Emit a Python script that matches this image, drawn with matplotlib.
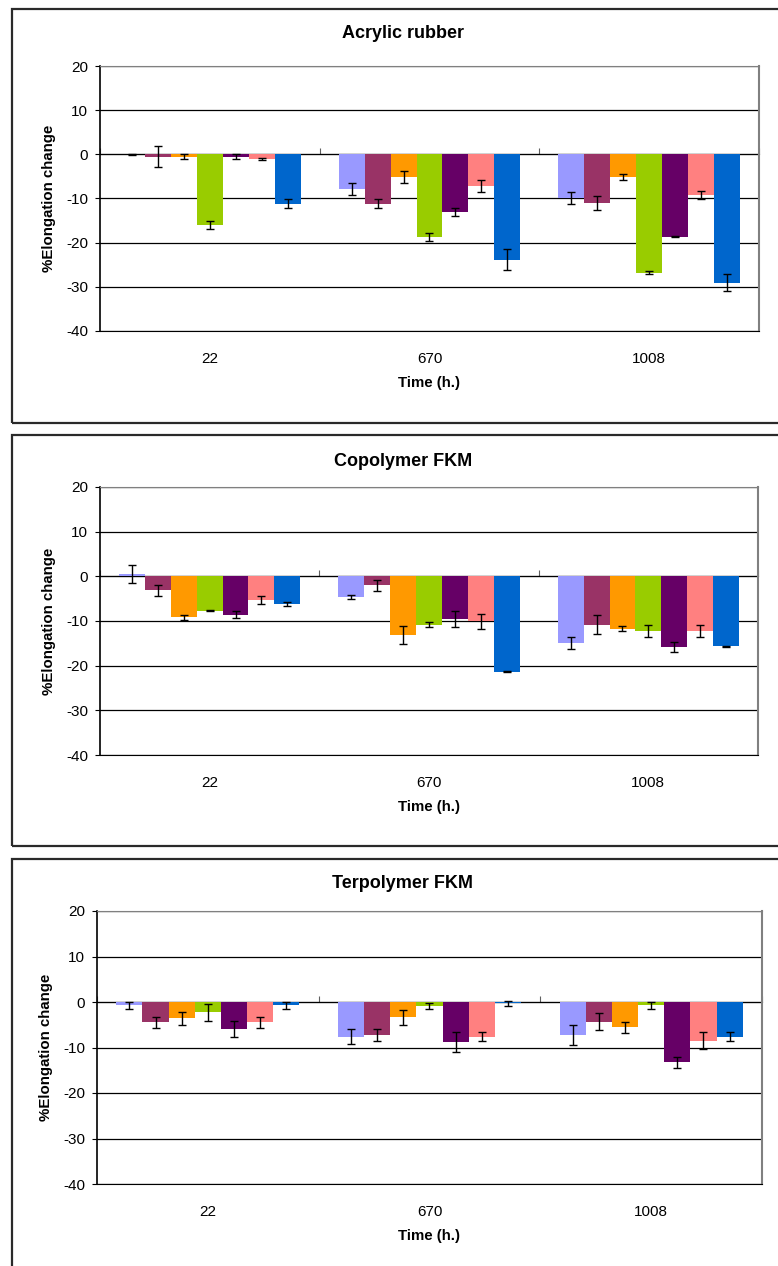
import matplotlib
matplotlib.use("Agg")
import matplotlib.pyplot as plt
from matplotlib.patches import Rectangle
import numpy as np

plt.rcParams['font.family'] = ['Liberation Sans', 'DejaVu Sans']
plt.rcParams['axes.unicode_minus'] = False

categories = ["22", "670", "1008"]
series_colors = ["#9999FF", "#993366", "#FF9900", "#99CC00", "#660066", "#FF8080", "#0066CC"]

titles = ["Acrylic rubber", "Copolymer FKM", "Terpolymer FKM"]

# values[series][category]
acrylic_vals = [
    [0.0, -7.9, -9.9],
    [-0.5, -11.2, -11.0],
    [-0.5, -5.1, -5.1],
    [-16.0, -18.7, -26.8],
    [-0.5, -13.0, -18.7],
    [-1.1, -7.1, -9.2],
    [-11.2, -23.9, -29.1],
]
acrylic_err = [
    [0.1, 1.4, 1.4],
    [2.3, 1.0, 1.5],
    [0.5, 1.4, 0.6],
    [1.0, 1.0, 0.4],
    [0.5, 0.9, 0.1],
    [0.2, 1.4, 1.0],
    [1.0, 2.4, 1.9],
]
copoly_vals = [
    [0.6, -4.7, -14.9],
    [-3.1, -2.0, -10.8],
    [-9.2, -13.1, -11.7],
    [-7.7, -10.8, -12.3],
    [-8.6, -9.5, -15.8],
    [-5.3, -10.1, -12.3],
    [-6.2, -21.4, -15.7],
]
copoly_err = [
    [2.0, 0.45, 1.3],
    [1.2, 1.2, 2.2],
    [0.5, 2.0, 0.5],
    [0.1, 0.55, 1.3],
    [0.8, 1.8, 1.2],
    [0.8, 1.7, 1.3],
    [0.45, 0.1, 0.1],
]
terpoly_vals = [
    [-0.75, -7.6, -7.2],
    [-4.5, -7.2, -4.3],
    [-3.6, -3.4, -5.6],
    [-2.3, -0.9, -0.7],
    [-5.9, -8.8, -13.2],
    [-4.5, -7.6, -8.5],
    [-0.75, -0.3, -7.6],
]
terpoly_err = [
    [0.8, 1.7, 2.2],
    [1.3, 1.3, 1.8],
    [1.4, 1.7, 1.2],
    [1.8, 0.6, 0.8],
    [1.7, 2.2, 1.2],
    [1.3, 0.9, 1.8],
    [0.8, 0.5, 0.9],
]

panel_vals = [acrylic_vals, copoly_vals, terpoly_vals]
panel_errs = [acrylic_err, copoly_err, terpoly_err]

W, H = 778, 1266
fig = plt.figure(figsize=(W / 100, H / 100), dpi=100)

# pixel layout: (left, right, top, bottom) of plot area; border boxes (top, bottom)
axes_px = [(100, 759, 66, 331), (100, 758, 487, 755), (97, 762, 911, 1184)]
box_px = [(9, 423), (435, 846), (859, 1300)]
title_y = [34, 461, 884]

def fx(x):
    return x / W

def fy(y):
    return 1 - y / H

for (bt, bb) in box_px:
    fig.patches.append(Rectangle((fx(12), fy(bb)), fx(800), (bb - bt) / H,
                                 transform=fig.transFigure, fill=False,
                                 edgecolor='#2a2a2a', linewidth=1.6, zorder=0))

bar_w = 0.118
x = np.arange(len(categories))
for p in range(3):
    l, r, t, b = axes_px[p]
    ax = fig.add_axes([fx(l), fy(b), (r - l) / W, (b - t) / H])
    ax.set_axisbelow(True)
    vals = panel_vals[p]
    errs = panel_errs[p]
    n = len(vals)
    for i in range(n):
        ax.bar(x + (i - (n - 1) / 2) * bar_w, vals[i], width=bar_w,
               color=series_colors[i], yerr=errs[i],
               error_kw=dict(ecolor='black', elinewidth=1.0, capsize=3.2, capthick=1.0),
               zorder=2)
    ax.set_xlim(-0.5, 2.5)
    ax.set_ylim(-40, 20)
    ax.set_yticks(np.arange(-40, 21, 10))
    ax.yaxis.grid(True, color='black', linewidth=0.9)
    ax.set_xticks(x)
    ax.set_xticklabels(categories, fontsize=11)
    ax.tick_params(axis='x', length=0, pad=15)
    ax.tick_params(axis='y', length=3.5, direction='out', labelsize=11, pad=5)
    ax.spines['top'].set_color('#808080')
    ax.spines['right'].set_color('#808080')
    ax.spines['right'].set_linewidth(1.5)
    ax.spines['bottom'].set_color('black')
    ax.spines['left'].set_color('black')
    ax.spines['left'].set_linewidth(1.2)
    sec = ax.secondary_xaxis(40 / 60)
    sec.set_xticks([-0.5, 0.5, 1.5, 2.5])
    sec.set_xticklabels([])
    sec.tick_params(axis='x', length=4, direction='out', color='#606060')
    sec.spines['bottom'].set_color('#808080')
    sec.spines['bottom'].set_linewidth(1.6)
    ax.set_xlabel("Time (h.)", fontsize=10.8, fontweight='bold', labelpad=7)
    ax.set_ylabel("%Elongation change", fontsize=10.8, fontweight='bold', labelpad=7)
    fig.text(fx(403), fy(title_y[p]), titles[p], ha='center', va='center',
             fontsize=13, fontweight='bold')

fig.savefig("out.png", dpi=100)
